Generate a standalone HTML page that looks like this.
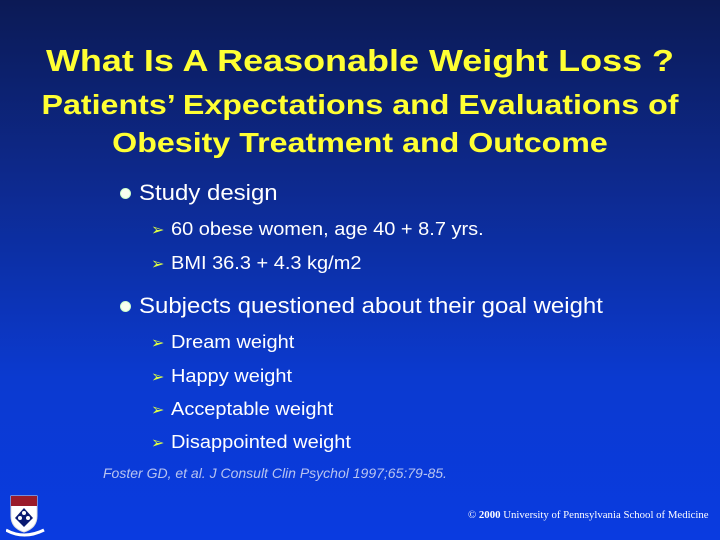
<!DOCTYPE html>
<html><head><meta charset="utf-8"><style>
html,body{margin:0;padding:0}
body{width:720px;height:540px;overflow:hidden;position:relative;font-family:"Liberation Sans",Arial,sans-serif;
background:linear-gradient(to bottom,#0c1a55 0%,#0d2a90 35%,#0b3ad0 70%,#0a3be0 100%)}
.t{position:absolute;white-space:nowrap}
.y{color:#ffff33;font-weight:bold;left:0;width:720px;text-align:center;transform-origin:360px 0}
.b1{color:#fff;font-size:22px;left:139px;transform:scaleX(1.09);transform-origin:0 0}
.dot{position:absolute;left:120px;width:9px;height:9px;border-radius:50%;border:1px solid #ccffcc;background:#f8fff0}
.b2{color:#fff;font-size:18px;left:171px;transform:scaleX(1.11);transform-origin:0 0}
.ar{position:absolute;left:151px;color:#ddff44;font-size:16px}
</style></head><body>
<div class="t y" style="top:43px;font-size:31px;transform:scaleX(1.16)">What Is A Reasonable Weight Loss ?</div>
<div class="t y" style="top:86px;font-size:28px;line-height:38px;transform:scaleX(1.15)">Patients’ Expectations and Evaluations of<br>Obesity Treatment and Outcome</div>

<div class="dot" style="top:188px"></div>
<div class="t b1" style="top:180px">Study design</div>
<div class="t ar" style="top:220px">➢</div>
<div class="t b2" style="top:219px">60 obese women, age 40 + 8.7 yrs.</div>
<div class="t ar" style="top:254px">➢</div>
<div class="t b2" style="top:253px">BMI 36.3 + 4.3 kg/m2</div>

<div class="dot" style="top:301px"></div>
<div class="t b1" style="top:293px">Subjects questioned about their goal weight</div>
<div class="t ar" style="top:333px">➢</div>
<div class="t b2" style="top:332px">Dream weight</div>
<div class="t ar" style="top:367px">➢</div>
<div class="t b2" style="top:366px">Happy weight</div>
<div class="t ar" style="top:400px">➢</div>
<div class="t b2" style="top:399px">Acceptable weight</div>
<div class="t ar" style="top:433px">➢</div>
<div class="t b2" style="top:432px">Disappointed weight</div>

<div class="t" style="top:465px;left:103px;font-size:14px;font-style:italic;color:#b8c4f0">Foster GD, et al. J Consult Clin Psychol 1997;65:79-85.</div>

<svg style="position:absolute;left:6px;top:494px" width="40" height="44">
<path d="M5 2 H31 V22 Q31 34 18 38 Q5 34 5 22 Z" fill="#fff" stroke="#ddd"/>
<rect x="5" y="2" width="26" height="10" fill="#9a1b2a"/>
<path d="M18 14 L27 24 L18 33 L9 24 Z" fill="#0a1a70"/>
<circle cx="18" cy="19" r="2" fill="#fff"/><circle cx="14" cy="24" r="2" fill="#fff"/><circle cx="22" cy="24" r="2" fill="#fff"/>
<path d="M0 36 Q18 46 38 36" stroke="#fff" stroke-width="3" fill="none"/>
</svg>

<div class="t" style="top:509px;left:468px;font-size:10.8px;color:#fff;font-family:'Liberation Serif',serif">© <b>2000</b> University of Pennsylvania School of Medicine</div>
</body></html>
